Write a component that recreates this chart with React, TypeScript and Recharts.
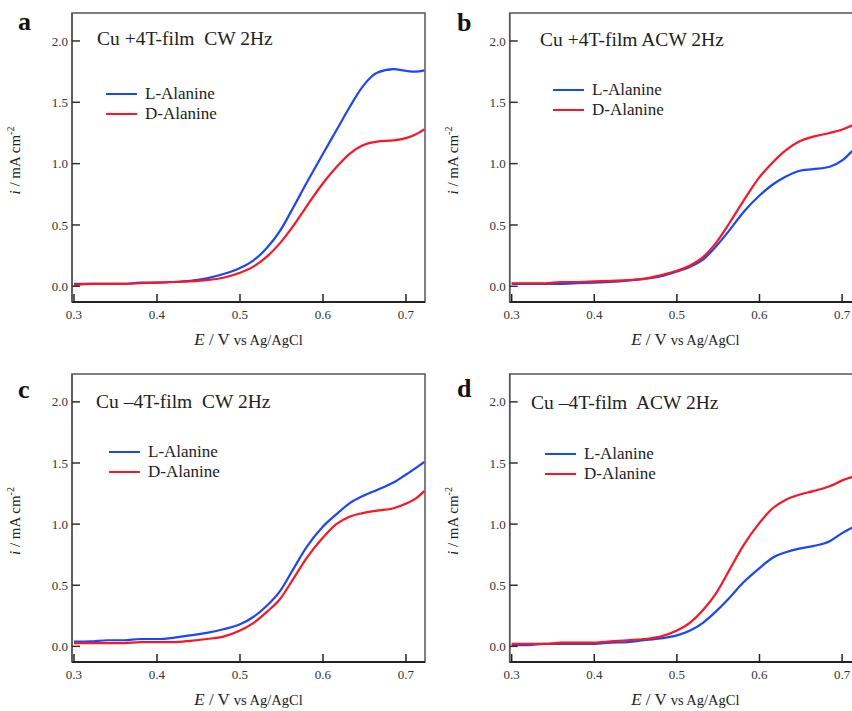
import React from 'react';
import { LineChart, Line, XAxis, YAxis, ReferenceArea, Legend, Customized } from 'recharts';

// ---------- data ----------
const potential = [0.300, 0.320, 0.340, 0.360, 0.380, 0.400, 0.420, 0.440, 0.460, 0.480, 0.500, 0.516, 0.532, 0.548, 0.564, 0.580, 0.600, 0.616, 0.632, 0.648, 0.665, 0.685, 0.701, 0.712, 0.722];

const aL = [0.02, 0.02, 0.02, 0.02, 0.03, 0.03, 0.035, 0.045, 0.065, 0.10, 0.15, 0.21, 0.31, 0.45, 0.64, 0.84, 1.08, 1.27, 1.46, 1.63, 1.74, 1.77, 1.755, 1.75, 1.76];
const aD = [0.01, 0.02, 0.02, 0.02, 0.025, 0.03, 0.035, 0.04, 0.05, 0.07, 0.11, 0.16, 0.24, 0.35, 0.49, 0.65, 0.84, 0.97, 1.08, 1.15, 1.18, 1.19, 1.21, 1.24, 1.28];

const bL = [0.02, 0.02, 0.02, 0.02, 0.025, 0.03, 0.035, 0.045, 0.06, 0.08, 0.12, 0.16, 0.22, 0.33, 0.46, 0.60, 0.74, 0.83, 0.895, 0.94, 0.955, 0.975, 1.03, 1.10, 1.15];
const bD = [0.025, 0.025, 0.025, 0.035, 0.035, 0.04, 0.045, 0.05, 0.06, 0.09, 0.127, 0.17, 0.24, 0.36, 0.52, 0.69, 0.89, 1.01, 1.11, 1.18, 1.22, 1.25, 1.28, 1.31, 1.33];

const cL = [0.038, 0.04, 0.05, 0.05, 0.06, 0.06, 0.07, 0.09, 0.11, 0.14, 0.18, 0.24, 0.33, 0.45, 0.63, 0.81, 0.98, 1.08, 1.17, 1.23, 1.28, 1.34, 1.41, 1.46, 1.51];
const cD = [0.027, 0.027, 0.027, 0.027, 0.035, 0.035, 0.035, 0.045, 0.06, 0.08, 0.13, 0.19, 0.28, 0.385, 0.55, 0.72, 0.89, 1.00, 1.06, 1.09, 1.11, 1.13, 1.17, 1.21, 1.27];

const dL = [0.01, 0.01, 0.02, 0.02, 0.02, 0.02, 0.03, 0.035, 0.05, 0.065, 0.09, 0.13, 0.195, 0.29, 0.40, 0.52, 0.64, 0.725, 0.77, 0.80, 0.82, 0.86, 0.93, 0.97, 1.01];
const dD = [0.02, 0.02, 0.02, 0.03, 0.03, 0.03, 0.04, 0.05, 0.06, 0.08, 0.13, 0.195, 0.30, 0.44, 0.63, 0.82, 1.01, 1.13, 1.20, 1.24, 1.27, 1.31, 1.36, 1.385, 1.41];

const xTicks = [0.3, 0.4, 0.5, 0.6, 0.7];
const yTicks = [0.0, 0.5, 1.0, 1.5, 2.0];
const seriesNames = ['L-Alanine', 'D-Alanine'];
const panelLetters = ['a', 'b', 'c', 'd'];
const panelTitles = ['Cu +4T-film  CW 2Hz', 'Cu +4T-film ACW 2Hz', 'Cu \u20134T-film  CW 2Hz', 'Cu \u20134T-film  ACW 2Hz'];

// ---------- style ----------
const SERIF = '"Liberation Serif", "Times New Roman", serif';
const BLUE = '#1a46ff';
const RED = '#ff1424';
const X_DOMAIN: [number, number] = [0.2976, 0.7229];
const Y_DOMAIN: [number, number] = [-0.128, 2.228];

const XLabel = (props: any) => {
  const vb = props.viewBox || {};
  const cx = vb.x + vb.width / 2;
  const y = vb.y + 43;
  return (
    <text x={cx} y={y} textAnchor="middle" fontFamily={SERIF} fill="#222">
      <tspan fontSize={17} fontStyle="italic">E</tspan>
      <tspan fontSize={17}>{' / V '}</tspan>
      <tspan fontSize={14.5}>vs Ag/AgCl</tspan>
    </text>
  );
};

const YLabel = (props: any) => {
  const vb = props.viewBox || {};
  const cx = vb.x + vb.width - 52;
  const cy = vb.y + vb.height / 2 + 3;
  return (
    <text x={cx} y={cy} textAnchor="middle" fontFamily={SERIF} fill="#222" transform={`rotate(-90, ${cx}, ${cy})`}>
      <tspan fontSize={15} fontStyle="italic">i</tspan>
      <tspan fontSize={15}>{' / mA cm'}</tspan>
      <tspan fontSize={10} dy={-6}>-2</tspan>
    </text>
  );
};

type PanelProps = {
  left: number; top: number; width: number; marginLeft: number; marginTop: number;
  letter: string; title: string; L: number[]; D: number[];
  letterPos: [number, number]; titlePos: [number, number]; legendPos: [number, number];
};

function Panel(p: PanelProps) {
  const data = potential.map((e, i) => ({ E: e, L: p.L[i], D: p.D[i] }));
  const legendContent = () => (
    <div style={{ fontFamily: SERIF, fontSize: 17, color: '#222' }}>
      {[BLUE, RED].map((c, i) => (
        <div key={i} style={{ display: 'flex', alignItems: 'center', height: 20, whiteSpace: 'nowrap' }}>
          <span style={{ display: 'inline-block', width: 31, height: 2, background: c, marginRight: 8 }} />
          <span style={{ lineHeight: '20px' }}>{seriesNames[i]}</span>
        </div>
      ))}
    </div>
  );
  return (
    <div style={{ position: 'absolute', left: p.left, top: p.top, width: p.width, height: 360 }}>
      <LineChart width={p.width} height={360} data={data}
        margin={{ top: p.marginTop, right: 5, left: p.marginLeft, bottom: 28 }}>
        <ReferenceArea x1={X_DOMAIN[0]} x2={X_DOMAIN[1]} y1={Y_DOMAIN[0]} y2={Y_DOMAIN[1]}
          fill="none" stroke="#555" strokeWidth={1.5} ifOverflow="visible" />
        <XAxis dataKey="E" type="number" domain={X_DOMAIN} ticks={xTicks} allowDataOverflow interval={0}
          tickFormatter={(v: number) => v.toFixed(1)} tickSize={-8} tickMargin={16} height={30}
          axisLine={{ stroke: '#222', strokeWidth: 2 }} tickLine={{ stroke: '#222', strokeWidth: 1.5 }}
          tick={{ fontSize: 13, fill: '#333', fontFamily: SERIF }}
          label={{ content: XLabel }} />
        <YAxis type="number" domain={Y_DOMAIN} ticks={yTicks} allowDataOverflow interval={0}
          tickFormatter={(v: number) => v.toFixed(1)} tickSize={-8} tickMargin={12} width={60}
          axisLine={{ stroke: '#555', strokeWidth: 1.5 }} tickLine={{ stroke: '#333', strokeWidth: 1.5 }}
          tick={{ fontSize: 13, fill: '#333', fontFamily: SERIF }}
          label={{ content: YLabel }} />
        <Line dataKey="L" name={seriesNames[0]} type="monotone" stroke={BLUE} strokeWidth={2.2} dot={false} isAnimationActive={false} />
        <Line dataKey="D" name={seriesNames[1]} type="monotone" stroke={RED} strokeWidth={2.2} dot={false} isAnimationActive={false} />
        <Legend layout="horizontal" verticalAlign="middle" align="center" content={legendContent}
          wrapperStyle={{ left: p.legendPos[0], top: p.legendPos[1], width: 'auto', height: 'auto' }} />
        <Customized component={() => (
          <g>
            <text x={p.letterPos[0]} y={p.letterPos[1]} fontFamily={SERIF} fontWeight="bold" fontSize={26} fill="#111">{p.letter}</text>
            <text x={p.titlePos[0]} y={p.titlePos[1]} fontFamily={SERIF} fontSize={19.5} fill="#222" style={{ whiteSpace: 'pre' }}>{p.title}</text>
          </g>
        )} />
      </LineChart>
    </div>
  );
}

export default function App() {
  return (
    <div style={{ position: 'absolute', left: 0, top: 0, width: 852, height: 711, overflow: 'hidden', background: '#fff' }}>
      <Panel left={0} top={0} width={430} marginLeft={12} marginTop={13} letter={panelLetters[0]} title={panelTitles[0]}
        L={aL} D={aD} letterPos={[18, 30]} titlePos={[97, 45]} legendPos={[106, 84]} />
      <Panel left={430} top={0} width={436} marginLeft={19.7} marginTop={13} letter={panelLetters[1]} title={panelTitles[1]}
        L={bL} D={bD} letterPos={[27, 31]} titlePos={[110, 46]} legendPos={[123, 80]} />
      <Panel left={0} top={360} width={430} marginLeft={12} marginTop={14} letter={panelLetters[2]} title={panelTitles[2]}
        L={cL} D={cD} letterPos={[18, 38]} titlePos={[96, 48]} legendPos={[109, 82]} />
      <Panel left={430} top={360} width={436} marginLeft={19.7} marginTop={14} letter={panelLetters[3]} title={panelTitles[3]}
        L={dL} D={dD} letterPos={[27, 37]} titlePos={[101, 49]} legendPos={[115, 84]} />
    </div>
  );
}
